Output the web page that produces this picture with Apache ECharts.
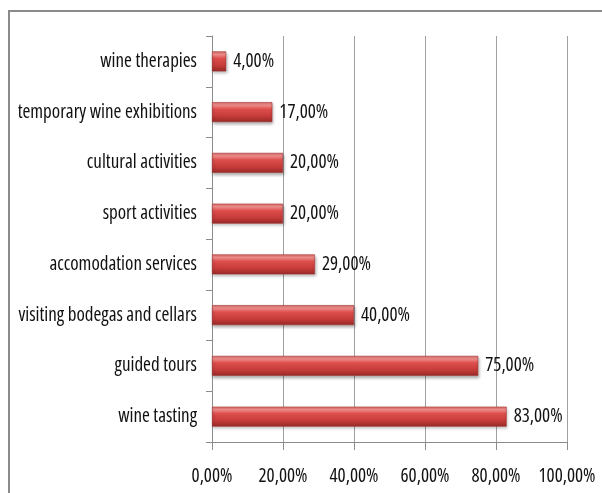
<!DOCTYPE html>
<html>
<head>
<meta charset="utf-8">
<script src="https://cdn.jsdelivr.net/npm/echarts@6/dist/echarts.min.js"></script>
<style>
  html, body { margin: 0; padding: 0; background: #fff; }
  #frame { position: absolute; left: 8px; top: 10px; width: 600px; height: 490px; border-left: 2px solid #8a8a8a; border-top: 2px solid #8a8a8a; }
  #chart { position: absolute; left: 0; top: 0; width: 602px; height: 493px; }
</style>
</head>
<body>
<div id="frame"></div>
<div id="chart"></div>
<script>
// Activities, listed bottom to top along the category axis
const categories = [
  'wine tasting',
  'guided tours',
  'visiting bodegas and cellars',
  'accomodation services',
  'sport activities',
  'cultural activities',
  'temporary wine exhibitions',
  'wine therapies'
];
// Share of respondents, in percent
const shares = [83, 75, 40, 29, 20, 20, 17, 4];
const xTicks = [0, 20, 40, 60, 80, 100];

// Narrow, tall lettering: Open Sans with condensed stretch
const textStyle = {
  fontFamily: '"Open Sans", "Liberation Sans", sans-serif',
  fontStyle: 'condensed',
  fontWeight: 400,
  fontSize: 19,
  color: '#111111'
};
const fmt = v => v.toFixed(2).replace('.', ',') + '%';

const chart = echarts.init(document.getElementById('chart'), null, { renderer: 'canvas' });
chart.setOption({
  animation: false,
  grid: { left: 212, right: 35, top: 36, bottom: 51, containLabel: false },
  xAxis: {
    type: 'value',
    min: xTicks[0],
    max: xTicks[xTicks.length - 1],
    interval: 20,
    axisLine: { show: true, lineStyle: { color: '#8c8c8c', width: 1 } },
    axisTick: { show: true, length: 8, lineStyle: { color: '#8c8c8c' } },
    splitLine: { show: true, lineStyle: { color: '#a0a0a0', width: 1 } },
    axisLabel: Object.assign({ formatter: v => fmt(v), margin: 25 }, textStyle)
  },
  yAxis: {
    type: 'category',
    data: categories,
    axisLine: { show: true, lineStyle: { color: '#8c8c8c', width: 1 } },
    axisTick: { show: true, length: 6, lineStyle: { color: '#8c8c8c' } },
    splitLine: { show: false },
    axisLabel: Object.assign({ margin: 15 }, textStyle)
  },
  series: [{
    type: 'bar',
    data: shares,
    barWidth: 20,
    itemStyle: {
      color: new echarts.graphic.LinearGradient(0, 0, 0, 1, [
        { offset: 0, color: '#d86664' },
        { offset: 0.15, color: '#f39290' },
        { offset: 0.35, color: '#dd4e4c' },
        { offset: 0.7, color: '#c63c3a' },
        { offset: 1, color: '#962826' }
      ]),
      borderColor: '#a43432',
      borderWidth: 0.6,
      shadowColor: 'rgba(0,0,0,0.3)',
      shadowBlur: 3,
      shadowOffsetY: 2,
      shadowOffsetX: 1
    },
    label: Object.assign({
      show: true,
      position: 'right',
      distance: 7,
      formatter: p => fmt(p.value)
    }, textStyle)
  }]
});
</script>
</body>
</html>
